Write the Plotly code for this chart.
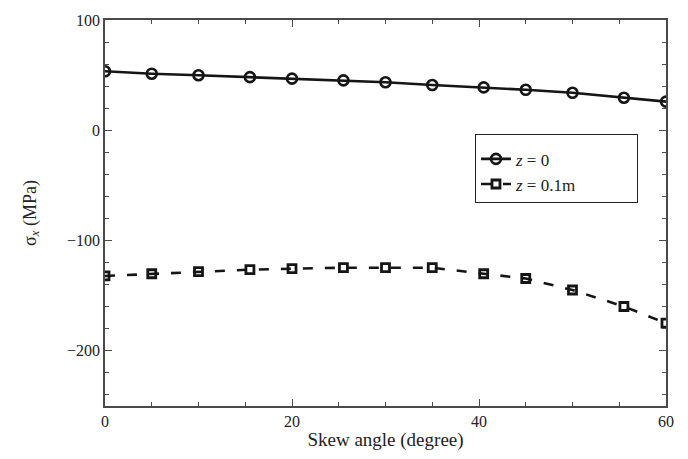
import plotly.graph_objects as go

# Skew angle (degree)
skew_angle = [0, 5, 10, 15.5, 20, 25.5, 30, 35, 40.5, 45, 50, 55.5, 60]

# sigma_x (MPa) at z = 0
sigma_z0 = [53.5, 51.3, 49.9, 48.2, 46.8, 45.3, 43.5, 41.0, 38.9, 36.7, 34.0, 29.5, 26.0]

# sigma_x (MPa) at z = 0.1 m
sigma_z01 = [-132.1, -130.1, -128.1, -126.4, -125.5, -124.6, -124.6, -124.6,
             -130.1, -134.4, -144.8, -159.8, -174.9]

series_names = ["<i>z</i> = 0", "<i>z</i> = 0.1m"]

INK = "#151515"
AXIS = "#4a4a4a"
FONT = "Liberation Serif, Times New Roman, serif"

# trailing non-breaking spaces widen the legend box
PAD = "&nbsp;" * 13

fig = go.Figure()

fig.add_trace(go.Scatter(
    x=skew_angle, y=sigma_z0, name=series_names[0],
    mode="lines+markers",
    line=dict(color=INK, width=2.6),
    marker=dict(symbol="circle-open", size=10, color=INK, line=dict(width=2.6)),
))

fig.add_trace(go.Scatter(
    x=skew_angle, y=sigma_z01, name=series_names[1] + PAD,
    mode="lines+markers",
    line=dict(color=INK, width=2.6, dash="10px,12px"),
    marker=dict(symbol="square-open", size=8, color=INK, line=dict(width=2.8)),
))

axis_common = dict(
    showline=True, linecolor=AXIS, mirror="ticks",
    ticks="inside", tickcolor=AXIS, ticklen=7, tickwidth=1.2,
    showgrid=False, zeroline=False,
    tickfont=dict(family=FONT, size=16, color="#222"),
)

fig.update_xaxes(
    range=[0, 60], tick0=0, dtick=20, linewidth=2,
    minor=dict(dtick=5, ticks="inside", ticklen=4, tickcolor=AXIS, showgrid=False),
    title=dict(text="Skew angle (degree)", font=dict(family=FONT, size=19, color="#222"),
               standoff=3),
    **axis_common,
)

fig.update_yaxes(
    range=[-250, 100], tick0=0, dtick=100, linewidth=1.5,
    minor=dict(dtick=20, ticks="inside", ticklen=4, tickcolor=AXIS, showgrid=False),
    title=dict(text="σ<sub><i>x</i></sub> (MPa)", font=dict(family=FONT, size=18, color="#222"),
               standoff=26),
    **axis_common,
)

fig.update_layout(
    width=688, height=459,
    margin=dict(l=105, r=22, t=15, b=43),
    paper_bgcolor="white", plot_bgcolor="white",
    font=dict(family=FONT, color="#222"),
    legend=dict(
        x=0.6595, y=0.705, xanchor="left", yanchor="top",
        bgcolor="white", bordercolor="#222", borderwidth=1,
        font=dict(family=FONT, size=17, color="#222"),
        tracegroupgap=0,
        title=dict(text="&nbsp;", font=dict(family=FONT, size=5)),
    ),
)

fig.write_html("out.html")
